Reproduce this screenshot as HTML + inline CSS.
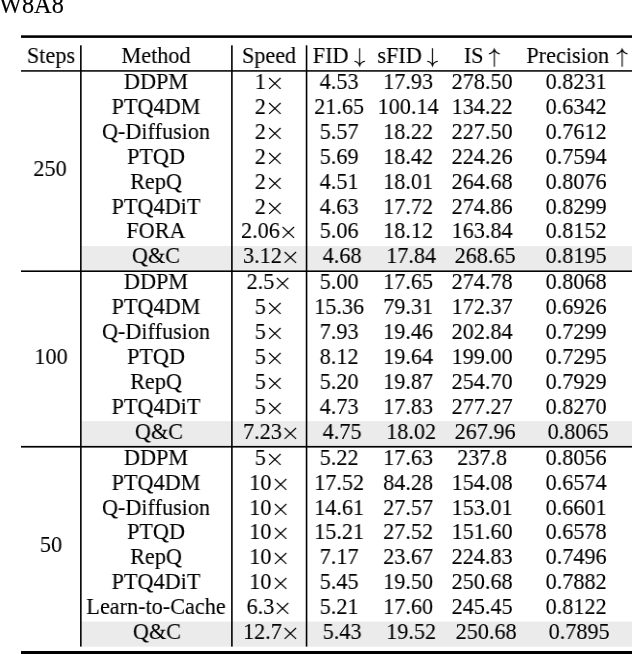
<!DOCTYPE html>
<html><head><meta charset="utf-8"><style>
html,body{margin:0;padding:0;background:#fff;width:634px;height:654px;overflow:hidden;position:relative}
.t{position:absolute;width:400px;text-align:center;font-family:"Liberation Serif",serif;font-size:23px;line-height:40px;height:40px;color:#000;-webkit-text-stroke:0.12px #000;white-space:nowrap;will-change:transform;transform:scaleX(0.965);transform-origin:200px 0}
.l{position:absolute;background:#000}
.g{position:absolute;background:#e9e9e9}
svg{display:inline-block;overflow:visible}
.w{position:absolute;left:-0.6px;top:-14.9px;font-family:"Liberation Serif",serif;font-size:24.3px;line-height:40px;-webkit-text-stroke:0.12px #000;white-space:nowrap;will-change:transform}
.ov{position:absolute;left:0;top:0;display:block}
.x{vertical-align:-0.9px}
.ad,.au{vertical-align:-4.7px}
</style></head><body>
<svg class="ov" width="634" height="654" viewBox="0 0 634 654"><rect x="81.5" y="246.1" width="550.50" height="24.30" fill="#ebebeb"/><rect x="81.5" y="421.1" width="550.50" height="24.70" fill="#ebebeb"/><rect x="81.5" y="621.6" width="550.50" height="25.10" fill="#ebebeb"/><rect x="21" y="35.3" width="611.00" height="2.60" fill="#000"/><rect x="21" y="70.0" width="611.00" height="1.80" fill="#262626"/><rect x="21" y="270.4" width="611.00" height="1.60" fill="#000"/><rect x="21" y="445.9" width="611.00" height="1.70" fill="#000"/><rect x="21" y="651.0" width="611.00" height="3.00" fill="#000"/><rect x="80.05" y="45.3" width="1.60" height="601.30" fill="#000"/><rect x="231.1" y="45.3" width="1.60" height="601.30" fill="#000"/><rect x="305.75" y="45.3" width="1.60" height="601.30" fill="#000"/></svg>
<div class="t" style="left:-44.20px;top:61.90px">DDPM</div>
<div class="t" style="left:68.70px;top:61.90px">1<svg class="x" width="17.9" height="14" viewBox="0 0 17.9 14"><path d="M3.1 2.0L15.0 12.9M15.0 2.0L3.1 12.9" stroke="#000" stroke-width="1.25" fill="none"/></svg></div>
<div class="t" style="left:138.60px;top:61.90px">4.53</div>
<div class="t" style="left:208.20px;top:61.90px">17.93</div>
<div class="t" style="left:282.20px;top:61.90px">278.50</div>
<div class="t" style="left:376.00px;top:61.90px">0.8231</div>
<div class="t" style="left:-44.20px;top:86.83px">PTQ4DM</div>
<div class="t" style="left:68.70px;top:86.83px">2<svg class="x" width="17.9" height="14" viewBox="0 0 17.9 14"><path d="M3.1 2.0L15.0 12.9M15.0 2.0L3.1 12.9" stroke="#000" stroke-width="1.25" fill="none"/></svg></div>
<div class="t" style="left:138.60px;top:86.83px">21.65</div>
<div class="t" style="left:208.20px;top:86.83px">100.14</div>
<div class="t" style="left:282.20px;top:86.83px">134.22</div>
<div class="t" style="left:376.00px;top:86.83px">0.6342</div>
<div class="t" style="left:-44.20px;top:111.76px">Q-Diffusion</div>
<div class="t" style="left:68.70px;top:111.76px">2<svg class="x" width="17.9" height="14" viewBox="0 0 17.9 14"><path d="M3.1 2.0L15.0 12.9M15.0 2.0L3.1 12.9" stroke="#000" stroke-width="1.25" fill="none"/></svg></div>
<div class="t" style="left:138.60px;top:111.76px">5.57</div>
<div class="t" style="left:208.20px;top:111.76px">18.22</div>
<div class="t" style="left:282.20px;top:111.76px">227.50</div>
<div class="t" style="left:376.00px;top:111.76px">0.7612</div>
<div class="t" style="left:-44.20px;top:136.69px">PTQD</div>
<div class="t" style="left:68.70px;top:136.69px">2<svg class="x" width="17.9" height="14" viewBox="0 0 17.9 14"><path d="M3.1 2.0L15.0 12.9M15.0 2.0L3.1 12.9" stroke="#000" stroke-width="1.25" fill="none"/></svg></div>
<div class="t" style="left:138.60px;top:136.69px">5.69</div>
<div class="t" style="left:208.20px;top:136.69px">18.42</div>
<div class="t" style="left:282.20px;top:136.69px">224.26</div>
<div class="t" style="left:376.00px;top:136.69px">0.7594</div>
<div class="t" style="left:-44.20px;top:161.62px">RepQ</div>
<div class="t" style="left:68.70px;top:161.62px">2<svg class="x" width="17.9" height="14" viewBox="0 0 17.9 14"><path d="M3.1 2.0L15.0 12.9M15.0 2.0L3.1 12.9" stroke="#000" stroke-width="1.25" fill="none"/></svg></div>
<div class="t" style="left:138.60px;top:161.62px">4.51</div>
<div class="t" style="left:208.20px;top:161.62px">18.01</div>
<div class="t" style="left:282.20px;top:161.62px">264.68</div>
<div class="t" style="left:376.00px;top:161.62px">0.8076</div>
<div class="t" style="left:-44.20px;top:186.55px">PTQ4DiT</div>
<div class="t" style="left:68.70px;top:186.55px">2<svg class="x" width="17.9" height="14" viewBox="0 0 17.9 14"><path d="M3.1 2.0L15.0 12.9M15.0 2.0L3.1 12.9" stroke="#000" stroke-width="1.25" fill="none"/></svg></div>
<div class="t" style="left:138.60px;top:186.55px">4.63</div>
<div class="t" style="left:208.20px;top:186.55px">17.72</div>
<div class="t" style="left:282.20px;top:186.55px">274.86</div>
<div class="t" style="left:376.00px;top:186.55px">0.8299</div>
<div class="t" style="left:-44.20px;top:211.48px">FORA</div>
<div class="t" style="left:68.70px;top:211.48px">2.06<svg class="x" width="17.9" height="14" viewBox="0 0 17.9 14"><path d="M3.1 2.0L15.0 12.9M15.0 2.0L3.1 12.9" stroke="#000" stroke-width="1.25" fill="none"/></svg></div>
<div class="t" style="left:138.60px;top:211.48px">5.06</div>
<div class="t" style="left:208.20px;top:211.48px">18.12</div>
<div class="t" style="left:282.20px;top:211.48px">163.84</div>
<div class="t" style="left:376.00px;top:211.48px">0.8152</div>
<div class="t" style="left:-44.20px;top:236.41px">Q&amp;C</div>
<div class="t" style="left:70.90px;top:236.41px">3.12<svg class="x" width="17.9" height="14" viewBox="0 0 17.9 14"><path d="M3.1 2.0L15.0 12.9M15.0 2.0L3.1 12.9" stroke="#000" stroke-width="1.25" fill="none"/></svg></div>
<div class="t" style="left:141.60px;top:236.41px">4.68</div>
<div class="t" style="left:211.20px;top:236.41px">17.84</div>
<div class="t" style="left:284.70px;top:236.41px">268.65</div>
<div class="t" style="left:376.00px;top:236.41px">0.8195</div>
<div class="t" style="left:-149.60px;top:149.15px">250</div>
<div class="t" style="left:-44.20px;top:262.10px">DDPM</div>
<div class="t" style="left:68.70px;top:262.10px">2.5<svg class="x" width="17.9" height="14" viewBox="0 0 17.9 14"><path d="M3.1 2.0L15.0 12.9M15.0 2.0L3.1 12.9" stroke="#000" stroke-width="1.25" fill="none"/></svg></div>
<div class="t" style="left:138.60px;top:262.10px">5.00</div>
<div class="t" style="left:208.20px;top:262.10px">17.65</div>
<div class="t" style="left:282.20px;top:262.10px">274.78</div>
<div class="t" style="left:376.00px;top:262.10px">0.8068</div>
<div class="t" style="left:-44.20px;top:287.03px">PTQ4DM</div>
<div class="t" style="left:68.70px;top:287.03px">5<svg class="x" width="17.9" height="14" viewBox="0 0 17.9 14"><path d="M3.1 2.0L15.0 12.9M15.0 2.0L3.1 12.9" stroke="#000" stroke-width="1.25" fill="none"/></svg></div>
<div class="t" style="left:138.60px;top:287.03px">15.36</div>
<div class="t" style="left:208.20px;top:287.03px">79.31</div>
<div class="t" style="left:282.20px;top:287.03px">172.37</div>
<div class="t" style="left:376.00px;top:287.03px">0.6926</div>
<div class="t" style="left:-44.20px;top:311.96px">Q-Diffusion</div>
<div class="t" style="left:68.70px;top:311.96px">5<svg class="x" width="17.9" height="14" viewBox="0 0 17.9 14"><path d="M3.1 2.0L15.0 12.9M15.0 2.0L3.1 12.9" stroke="#000" stroke-width="1.25" fill="none"/></svg></div>
<div class="t" style="left:138.60px;top:311.96px">7.93</div>
<div class="t" style="left:208.20px;top:311.96px">19.46</div>
<div class="t" style="left:282.20px;top:311.96px">202.84</div>
<div class="t" style="left:376.00px;top:311.96px">0.7299</div>
<div class="t" style="left:-44.20px;top:336.89px">PTQD</div>
<div class="t" style="left:68.70px;top:336.89px">5<svg class="x" width="17.9" height="14" viewBox="0 0 17.9 14"><path d="M3.1 2.0L15.0 12.9M15.0 2.0L3.1 12.9" stroke="#000" stroke-width="1.25" fill="none"/></svg></div>
<div class="t" style="left:138.60px;top:336.89px">8.12</div>
<div class="t" style="left:208.20px;top:336.89px">19.64</div>
<div class="t" style="left:282.20px;top:336.89px">199.00</div>
<div class="t" style="left:376.00px;top:336.89px">0.7295</div>
<div class="t" style="left:-44.20px;top:361.82px">RepQ</div>
<div class="t" style="left:68.70px;top:361.82px">5<svg class="x" width="17.9" height="14" viewBox="0 0 17.9 14"><path d="M3.1 2.0L15.0 12.9M15.0 2.0L3.1 12.9" stroke="#000" stroke-width="1.25" fill="none"/></svg></div>
<div class="t" style="left:138.60px;top:361.82px">5.20</div>
<div class="t" style="left:208.20px;top:361.82px">19.87</div>
<div class="t" style="left:282.20px;top:361.82px">254.70</div>
<div class="t" style="left:376.00px;top:361.82px">0.7929</div>
<div class="t" style="left:-44.20px;top:386.75px">PTQ4DiT</div>
<div class="t" style="left:68.70px;top:386.75px">5<svg class="x" width="17.9" height="14" viewBox="0 0 17.9 14"><path d="M3.1 2.0L15.0 12.9M15.0 2.0L3.1 12.9" stroke="#000" stroke-width="1.25" fill="none"/></svg></div>
<div class="t" style="left:138.60px;top:386.75px">4.73</div>
<div class="t" style="left:208.20px;top:386.75px">17.83</div>
<div class="t" style="left:282.20px;top:386.75px">277.27</div>
<div class="t" style="left:376.00px;top:386.75px">0.8270</div>
<div class="t" style="left:-41.20px;top:411.68px">Q&amp;C</div>
<div class="t" style="left:71.20px;top:411.68px">7.23<svg class="x" width="17.9" height="14" viewBox="0 0 17.9 14"><path d="M3.1 2.0L15.0 12.9M15.0 2.0L3.1 12.9" stroke="#000" stroke-width="1.25" fill="none"/></svg></div>
<div class="t" style="left:141.60px;top:411.68px">4.75</div>
<div class="t" style="left:210.90px;top:411.68px">18.02</div>
<div class="t" style="left:284.60px;top:411.68px">267.96</div>
<div class="t" style="left:378.00px;top:411.68px">0.8065</div>
<div class="t" style="left:-148.70px;top:336.89px">100</div>
<div class="t" style="left:-44.20px;top:437.70px">DDPM</div>
<div class="t" style="left:68.70px;top:437.70px">5<svg class="x" width="17.9" height="14" viewBox="0 0 17.9 14"><path d="M3.1 2.0L15.0 12.9M15.0 2.0L3.1 12.9" stroke="#000" stroke-width="1.25" fill="none"/></svg></div>
<div class="t" style="left:138.60px;top:437.70px">5.22</div>
<div class="t" style="left:208.20px;top:437.70px">17.63</div>
<div class="t" style="left:282.20px;top:437.70px">237.8</div>
<div class="t" style="left:376.00px;top:437.70px">0.8056</div>
<div class="t" style="left:-44.20px;top:462.63px">PTQ4DM</div>
<div class="t" style="left:68.70px;top:462.63px">10<svg class="x" width="17.9" height="14" viewBox="0 0 17.9 14"><path d="M3.1 2.0L15.0 12.9M15.0 2.0L3.1 12.9" stroke="#000" stroke-width="1.25" fill="none"/></svg></div>
<div class="t" style="left:138.60px;top:462.63px">17.52</div>
<div class="t" style="left:208.20px;top:462.63px">84.28</div>
<div class="t" style="left:282.20px;top:462.63px">154.08</div>
<div class="t" style="left:376.00px;top:462.63px">0.6574</div>
<div class="t" style="left:-44.20px;top:487.56px">Q-Diffusion</div>
<div class="t" style="left:68.70px;top:487.56px">10<svg class="x" width="17.9" height="14" viewBox="0 0 17.9 14"><path d="M3.1 2.0L15.0 12.9M15.0 2.0L3.1 12.9" stroke="#000" stroke-width="1.25" fill="none"/></svg></div>
<div class="t" style="left:138.60px;top:487.56px">14.61</div>
<div class="t" style="left:208.20px;top:487.56px">27.57</div>
<div class="t" style="left:282.20px;top:487.56px">153.01</div>
<div class="t" style="left:376.00px;top:487.56px">0.6601</div>
<div class="t" style="left:-44.20px;top:512.49px">PTQD</div>
<div class="t" style="left:68.70px;top:512.49px">10<svg class="x" width="17.9" height="14" viewBox="0 0 17.9 14"><path d="M3.1 2.0L15.0 12.9M15.0 2.0L3.1 12.9" stroke="#000" stroke-width="1.25" fill="none"/></svg></div>
<div class="t" style="left:138.60px;top:512.49px">15.21</div>
<div class="t" style="left:208.20px;top:512.49px">27.52</div>
<div class="t" style="left:282.20px;top:512.49px">151.60</div>
<div class="t" style="left:376.00px;top:512.49px">0.6578</div>
<div class="t" style="left:-44.20px;top:537.42px">RepQ</div>
<div class="t" style="left:68.70px;top:537.42px">10<svg class="x" width="17.9" height="14" viewBox="0 0 17.9 14"><path d="M3.1 2.0L15.0 12.9M15.0 2.0L3.1 12.9" stroke="#000" stroke-width="1.25" fill="none"/></svg></div>
<div class="t" style="left:138.60px;top:537.42px">7.17</div>
<div class="t" style="left:208.20px;top:537.42px">23.67</div>
<div class="t" style="left:282.20px;top:537.42px">224.83</div>
<div class="t" style="left:376.00px;top:537.42px">0.7496</div>
<div class="t" style="left:-44.20px;top:562.35px">PTQ4DiT</div>
<div class="t" style="left:68.70px;top:562.35px">10<svg class="x" width="17.9" height="14" viewBox="0 0 17.9 14"><path d="M3.1 2.0L15.0 12.9M15.0 2.0L3.1 12.9" stroke="#000" stroke-width="1.25" fill="none"/></svg></div>
<div class="t" style="left:138.60px;top:562.35px">5.45</div>
<div class="t" style="left:208.20px;top:562.35px">19.50</div>
<div class="t" style="left:282.20px;top:562.35px">250.68</div>
<div class="t" style="left:376.00px;top:562.35px">0.7882</div>
<div class="t" style="left:-44.20px;top:587.28px">Learn-to-Cache</div>
<div class="t" style="left:68.70px;top:587.28px">6.3<svg class="x" width="17.9" height="14" viewBox="0 0 17.9 14"><path d="M3.1 2.0L15.0 12.9M15.0 2.0L3.1 12.9" stroke="#000" stroke-width="1.25" fill="none"/></svg></div>
<div class="t" style="left:138.60px;top:587.28px">5.21</div>
<div class="t" style="left:208.20px;top:587.28px">17.60</div>
<div class="t" style="left:282.20px;top:587.28px">245.45</div>
<div class="t" style="left:376.00px;top:587.28px">0.8122</div>
<div class="t" style="left:-43.20px;top:612.21px">Q&amp;C</div>
<div class="t" style="left:70.70px;top:612.21px">12.7<svg class="x" width="17.9" height="14" viewBox="0 0 17.9 14"><path d="M3.1 2.0L15.0 12.9M15.0 2.0L3.1 12.9" stroke="#000" stroke-width="1.25" fill="none"/></svg></div>
<div class="t" style="left:142.10px;top:612.21px">5.43</div>
<div class="t" style="left:210.80px;top:612.21px">19.52</div>
<div class="t" style="left:285.50px;top:612.21px">250.68</div>
<div class="t" style="left:378.60px;top:612.21px">0.7895</div>
<div class="t" style="left:-148.70px;top:525.36px">50</div>
<div class="t" style="left:-149.00px;top:36.00px">Steps</div>
<div class="t" style="left:-44.20px;top:36.00px">Method</div>
<div class="t" style="left:68.70px;top:36.00px">Speed</div>
<div class="t" style="left:138.60px;top:36.00px">FID <svg class="ad" width="11.5" height="20" viewBox="0 0 11.5 20"><path d="M5.4 0.3V17.4M-0.1 13.3Q4.1 14.0 5.4 17.8Q6.7 14.0 10.9 13.3" stroke="#000" stroke-width="1.15" fill="none"/></svg></div>
<div class="t" style="left:208.20px;top:36.00px">sFID <svg class="ad" width="11.5" height="20" viewBox="0 0 11.5 20"><path d="M5.4 0.3V17.4M-0.1 13.3Q4.1 14.0 5.4 17.8Q6.7 14.0 10.9 13.3" stroke="#000" stroke-width="1.15" fill="none"/></svg></div>
<div class="t" style="left:282.20px;top:36.00px">IS <svg class="au" width="11.5" height="20" viewBox="0 0 11.5 20"><path d="M5.75 18.7V1.4M0.2 5.9Q4.4 4.9 5.75 1.2Q7.1 4.9 11.3 5.9" stroke="#000" stroke-width="1.15" fill="none"/></svg></div>
<div class="t" style="left:377.00px;top:36.00px">Precision <svg class="au" style="margin-left:2px" width="11.5" height="20" viewBox="0 0 11.5 20"><path d="M5.75 18.7V1.4M0.2 5.9Q4.4 4.9 5.75 1.2Q7.1 4.9 11.3 5.9" stroke="#000" stroke-width="1.15" fill="none"/></svg></div>
<div class="w">W8A8</div>
</body></html>
